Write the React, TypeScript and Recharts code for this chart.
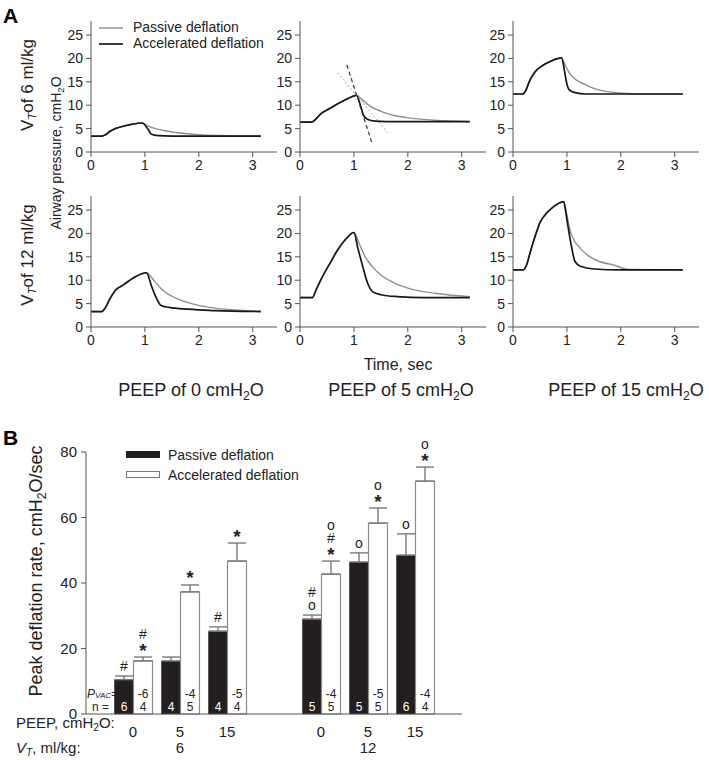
import React from 'react';
import { LineChart, Line, XAxis, YAxis, BarChart, Bar, ErrorBar, LabelList } from 'recharts';

type Pt = [number, number];

// Panel A: airway pressure traces, [time (s), pressure (cmH2O)]
const rise6p0: Pt[] = [[0, 3.4], [0.2, 3.4], [0.27, 3.7], [0.35, 4.4], [0.45, 5.0], [0.6, 5.5], [0.75, 5.9], [0.95, 6.2]];
const passive6p0: Pt[] = [[1.05, 5.6], [1.2, 5.0], [1.4, 4.5], [1.7, 4.0], [2.0, 3.7], [2.5, 3.5], [3.15, 3.4]];
const accel6p0: Pt[] = [[1.05, 5.0], [1.12, 3.8], [1.25, 3.5], [1.5, 3.4], [3.15, 3.4]];

const rise6p5: Pt[] = [[0, 6.4], [0.22, 6.4], [0.28, 6.9], [0.4, 8.3], [0.55, 9.3], [0.7, 10.3], [0.85, 11.2], [1.05, 12.1]];
const passive6p5: Pt[] = [[1.15, 11.2], [1.3, 9.8], [1.5, 8.7], [1.75, 7.8], [2.0, 7.3], [2.5, 6.8], [3.15, 6.5]];
const accel6p5: Pt[] = [[1.12, 10.0], [1.18, 7.8], [1.25, 7.0], [1.4, 6.6], [1.6, 6.5], [3.15, 6.5]];
const tangentAccel: Pt[] = [[0.87, 18.6], [1.33, 2.1]];
const tangentPassive: Pt[] = [[0.7, 16.9], [1.63, 4.1]];

const rise6p15: Pt[] = [[0, 12.4], [0.18, 12.4], [0.24, 13.2], [0.3, 15.0], [0.4, 17.0], [0.55, 18.5], [0.7, 19.4], [0.9, 20.1]];
const passive6p15: Pt[] = [[0.97, 18.5], [1.05, 16.8], [1.15, 15.6], [1.3, 14.6], [1.5, 13.6], [1.75, 12.9], [2.0, 12.6], [2.3, 12.4], [3.15, 12.4]];
const accel6p15: Pt[] = [[0.96, 17.0], [1.0, 14.5], [1.05, 13.2], [1.15, 12.7], [1.35, 12.4], [3.15, 12.4]];

const rise12p0: Pt[] = [[0, 3.3], [0.2, 3.3], [0.27, 4.2], [0.35, 6.0], [0.45, 7.8], [0.6, 9.0], [0.8, 10.6], [1.03, 11.6]];
const passive12p0: Pt[] = [[1.15, 10.2], [1.3, 8.2], [1.45, 6.9], [1.65, 5.8], [1.9, 4.9], [2.2, 4.2], [2.6, 3.7], [3.15, 3.4]];
const accel12p0: Pt[] = [[1.12, 8.8], [1.2, 6.5], [1.3, 4.6], [1.45, 4.2], [1.8, 3.8], [2.3, 3.5], [3.15, 3.3]];

const rise12p5: Pt[] = [[0, 6.3], [0.23, 6.3], [0.3, 8.0], [0.4, 10.4], [0.55, 13.5], [0.7, 16.5], [0.85, 18.8], [1.0, 20.2]];
const passive12p5: Pt[] = [[1.1, 17.8], [1.2, 15.2], [1.35, 12.8], [1.5, 11.1], [1.75, 9.4], [2.0, 8.3], [2.5, 7.2], [3.15, 6.5]];
const accel12p5: Pt[] = [[1.07, 17.0], [1.15, 13.5], [1.25, 9.5], [1.35, 7.5], [1.5, 6.9], [1.8, 6.5], [2.3, 6.3], [3.15, 6.3]];

const rise12p15: Pt[] = [[0, 12.2], [0.19, 12.2], [0.25, 13.2], [0.32, 16.0], [0.4, 19.0], [0.5, 22.3], [0.62, 24.3], [0.72, 25.4], [0.94, 26.8]];
const passive12p15: Pt[] = [[1.0, 24.0], [1.05, 21.0], [1.12, 18.8], [1.25, 16.8], [1.4, 15.2], [1.6, 14.0], [1.85, 13.3], [2.15, 12.3], [3.15, 12.2]];
const accel12p15: Pt[] = [[0.98, 24.5], [1.02, 21.5], [1.08, 17.5], [1.15, 14.0], [1.25, 13.0], [1.5, 12.4], [2.0, 12.2], [3.15, 12.2]];

// Panel B: peak deflation rate (cmH2O/sec)
const peepLabels = ['0', '5', '15', '', '0', '5', '15'];
const passiveRate = [10.5, 16.2, 25.3, null, 29.0, 46.4, 48.5];
const passiveSE = [1.1, 1.2, 1.3, null, 1.2, 2.8, 6.5];
const accelRate = [16.2, 37.3, 46.7, null, 42.7, 58.3, 71.1];
const accelSE = [1.2, 2.1, 5.5, null, 4.0, 4.6, 4.3];
const passiveN = [6, 4, 4, null, 5, 5, 6];
const accelN = [4, 5, 4, null, 5, 5, 4];
const pvac = [-6, -4, -5, null, -4, -5, -4];
// significance marks, listed from the bar upwards
const passiveMarks = [['#'], [], ['#'], [], ['o', '#'], ['o'], ['o']];
const accelMarks = [['*', '#'], ['*'], ['*'], [], ['*', '#', 'o'], ['*', 'o'], ['*', 'o']];

const FONT = '"Liberation Sans", Arial, Helvetica, sans-serif';
const INK = '#222';
const AXIS = '#555';

const rows = (pts: Pt[]) => pts.map(([t, p]) => ({ t, p }));

const Sub = ({ children, italic }: { children: React.ReactNode; italic?: boolean }) => (
  <span style={{ fontSize: '0.68em', verticalAlign: '-0.3em', lineHeight: 0, fontStyle: italic ? 'italic' : 'normal' }}>{children}</span>
);

const Txt = ({ x, y, size, anchor = 'left', children, style }: any) => (
  <div
    style={{
      position: 'absolute',
      left: x,
      top: y,
      fontSize: size,
      lineHeight: 1,
      whiteSpace: 'nowrap',
      color: INK,
      transform: anchor === 'center' ? 'translate(-50%, -50%)' : 'translateY(-50%)',
      ...style,
    }}
  >
    {children}
  </div>
);

const VTxt = ({ x, y, size, children }: any) => (
  <div
    style={{
      position: 'absolute',
      left: x,
      top: y,
      fontSize: size,
      lineHeight: 1,
      whiteSpace: 'nowrap',
      color: INK,
      transform: 'translate(-50%, -50%) rotate(-90deg)',
    }}
  >
    {children}
  </div>
);

function PressurePanel({ axisX, plotTop, rise, passive, accel, tangents }: any) {
  const tick = { fontSize: 14, fill: INK, fontFamily: FONT };
  return (
    <div style={{ position: 'absolute', left: axisX - 40, top: plotTop - 5 }}>
      <LineChart width={232} height={164} margin={{ top: 5, right: 6, left: 0, bottom: 0 }}>
        <XAxis
          type="number"
          dataKey="t"
          domain={[0, 3.45]}
          ticks={[0, 1, 2, 3]}
          allowDataOverflow
          stroke={AXIS}
          tick={tick}
          tickSize={5}
          tickMargin={3}
          height={28}
        />
        <YAxis
          type="number"
          domain={[0, 28]}
          ticks={[0, 5, 10, 15, 20, 25]}
          allowDataOverflow
          stroke={AXIS}
          tick={tick}
          tickSize={5}
          tickMargin={3}
          width={40}
        />
        <Line data={rows([...rise, ...passive])} dataKey="p" type="monotone" stroke="#8e8e8e" strokeWidth={1.4} dot={false} isAnimationActive={false} />
        <Line data={rows([...rise, ...accel])} dataKey="p" type="monotone" stroke="#161616" strokeWidth={1.7} dot={false} isAnimationActive={false} />
        {tangents && (
          <Line data={rows(tangents[1])} dataKey="p" type="linear" stroke="#9a9a9a" strokeWidth={1} strokeDasharray="2 2" dot={false} isAnimationActive={false} />
        )}
        {tangents && (
          <Line data={rows(tangents[0])} dataKey="p" type="linear" stroke="#333" strokeWidth={1.2} strokeDasharray="4 3" dot={false} isAnimationActive={false} />
        )}
      </LineChart>
    </div>
  );
}

const table = peepLabels.map((peep, i) => ({
  key: String(i),
  idx: i,
  peep,
  passive: passiveRate[i],
  accel: accelRate[i],
  passiveErr: passiveSE[i] == null ? null : [0, passiveSE[i]],
  accelErr: accelSE[i] == null ? null : [0, accelSE[i]],
}));

const marksContent = (series: 'passive' | 'accel') => (props: any) => {
  const vb = props.viewBox ?? props;
  const i = Number(props.value);
  const rate = series === 'passive' ? passiveRate[i] : accelRate[i];
  const se = series === 'passive' ? passiveSE[i] : accelSE[i];
  if (rate == null || se == null || !vb || !vb.height) return null;
  const ppu = vb.height / rate;
  const errTop = vb.y - se * ppu;
  const cx = vb.x + vb.width / 2;
  const marks = series === 'passive' ? passiveMarks[i] : accelMarks[i];
  return (
    <g>
      {marks.map((m, k) => (
        <text
          key={k}
          x={cx}
          y={errTop - 10 - k * 13}
          dy={m === '*' ? 3 : 0}
          textAnchor="middle"
          dominantBaseline="central"
          fontSize={m === '*' ? 19 : 14}
          fontWeight={m === '*' ? 'bold' : 'normal'}
          fontFamily={FONT}
          fill={INK}
        >
          {m}
        </text>
      ))}
    </g>
  );
};

const innerContent = (series: 'passive' | 'accel') => (props: any) => {
  const vb = props.viewBox ?? props;
  const i = Number(props.value);
  const n = series === 'passive' ? passiveN[i] : accelN[i];
  if (n == null || !vb || !vb.height) return null;
  const cx = vb.x + vb.width / 2;
  const base = vb.y + vb.height;
  const color = series === 'passive' ? '#fff' : INK;
  return (
    <g fontFamily={FONT} fontSize={12} fill={color} textAnchor="middle">
      <text x={cx} y={base - 7} dominantBaseline="central">{n}</text>
      {series === 'accel' && (
        <text x={cx} y={base - 20} dominantBaseline="central">{pvac[i]}</text>
      )}
    </g>
  );
};

function DeflationRateChart() {
  const tick = { fontSize: 15, fill: INK, fontFamily: FONT };
  return (
    <div style={{ position: 'absolute', left: 36, top: 412 }}>
      <BarChart width={436} height={332} data={table} margin={{ top: 40, right: 10, left: 0, bottom: 0 }} barGap={0} barSize={19}>
        <XAxis
          dataKey="key"
          type="category"
          padding={{ left: 23.5, right: 23.5 }}
          tickFormatter={(v: string) => peepLabels[Number(v)]}
          tickLine={false}
          stroke={AXIS}
          tick={tick}
          tickMargin={6}
          height={30}
          interval={0}
        />
        <YAxis
          type="number"
          domain={[0, 80]}
          ticks={[0, 20, 40, 60, 80]}
          stroke={AXIS}
          tick={tick}
          tickSize={5}
          tickMargin={4}
          width={50}
        />
        <Bar dataKey="passive" fill="#231f20" stroke="#231f20" strokeWidth={0.5} isAnimationActive={false}>
          <ErrorBar dataKey="passiveErr" direction="y" width={9} stroke="#7a7a7a" strokeWidth={1.4} />
          <LabelList dataKey="idx" content={marksContent('passive')} />
          <LabelList dataKey="idx" content={innerContent('passive')} />
        </Bar>
        <Bar dataKey="accel" fill="#ffffff" stroke="#8a8a8a" strokeWidth={1.2} isAnimationActive={false}>
          <ErrorBar dataKey="accelErr" direction="y" width={9} stroke="#7a7a7a" strokeWidth={1.4} />
          <LabelList dataKey="idx" content={marksContent('accel')} />
          <LabelList dataKey="idx" content={innerContent('accel')} />
        </Bar>
      </BarChart>
    </div>
  );
}

export default function App() {
  const cols = [91, 300, 513];
  const tops = [21, 196];
  return (
    <div
      style={{
        position: 'absolute',
        left: 0,
        top: 0,
        width: 709,
        height: 760,
        background: '#fff',
        fontFamily: FONT,
        color: INK,
        overflow: 'hidden',
      }}
    >
      <PressurePanel axisX={cols[0]} plotTop={tops[0]} rise={rise6p0} passive={passive6p0} accel={accel6p0} />
      <PressurePanel axisX={cols[1]} plotTop={tops[0]} rise={rise6p5} passive={passive6p5} accel={accel6p5} tangents={[tangentAccel, tangentPassive]} />
      <PressurePanel axisX={cols[2]} plotTop={tops[0]} rise={rise6p15} passive={passive6p15} accel={accel6p15} />
      <PressurePanel axisX={cols[0]} plotTop={tops[1]} rise={rise12p0} passive={passive12p0} accel={accel12p0} />
      <PressurePanel axisX={cols[1]} plotTop={tops[1]} rise={rise12p5} passive={passive12p5} accel={accel12p5} />
      <PressurePanel axisX={cols[2]} plotTop={tops[1]} rise={rise12p15} passive={passive12p15} accel={accel12p15} />

      <Txt x={3} y={15} size={21} style={{ fontWeight: 'bold', color: '#000' }}>A</Txt>

      {/* panel A legend */}
      <svg style={{ position: 'absolute', left: 0, top: 0 }} width={140} height={60}>
        <line x1={99} x2={123} y1={28} y2={28} stroke="#8e8e8e" strokeWidth={1.4} />
        <line x1={99} x2={123} y1={44} y2={44} stroke="#161616" strokeWidth={1.7} />
      </svg>
      <Txt x={133} y={27} size={14}>Passive deflation</Txt>
      <Txt x={133} y={43} size={14}>Accelerated deflation</Txt>

      <VTxt x={27} y={85} size={17}>V<Sub italic>T</Sub>of 6 ml/kg</VTxt>
      <VTxt x={27} y={255} size={17}>V<Sub italic>T</Sub>of 12 ml/kg</VTxt>
      <VTxt x={56} y={153} size={14}>Airway pressure, cmH<Sub>2</Sub>O</VTxt>

      <Txt x={398} y={365} size={16} anchor="center">Time, sec</Txt>
      <Txt x={191} y={390} size={18} anchor="center">PEEP of 0 cmH<Sub>2</Sub>O</Txt>
      <Txt x={401} y={390} size={18} anchor="center">PEEP of 5 cmH<Sub>2</Sub>O</Txt>
      <Txt x={626} y={390} size={18} anchor="center">PEEP of 15 cmH<Sub>2</Sub>O</Txt>

      {/* panel B */}
      <DeflationRateChart />
      <Txt x={3} y={437} size={21} style={{ fontWeight: 'bold', color: '#000' }}>B</Txt>
      <VTxt x={36} y={571} size={18}>Peak deflation rate, cmH<Sub>2</Sub>O/sec</VTxt>

      <svg style={{ position: 'absolute', left: 0, top: 440 }} width={170} height={50}>
        <rect x={126} y={11} width={34} height={7} fill="#231f20" />
        <rect x={126.5} y={31.5} width={33} height={6} fill="#fff" stroke="#777" strokeWidth={1} />
      </svg>
      <Txt x={168} y={455} size={14}>Passive deflation</Txt>
      <Txt x={168} y={475} size={14}>Accelerated deflation</Txt>

      <Txt x={87} y={694} size={12} style={{ fontStyle: 'italic' }}>
        P<span style={{ fontSize: 8 }}>VAC</span>=
      </Txt>
      <Txt x={92} y={707} size={12}>n =</Txt>

      <Txt x={16} y={722} size={15}>PEEP, cmH<Sub>2</Sub>O:</Txt>
      <Txt x={16} y={747} size={15}>
        <i>V<Sub italic>T</Sub></i>, ml/kg:
      </Txt>
      <Txt x={180} y={747} size={15} anchor="center">6</Txt>
      <Txt x={368} y={747} size={15} anchor="center">12</Txt>
    </div>
  );
}
